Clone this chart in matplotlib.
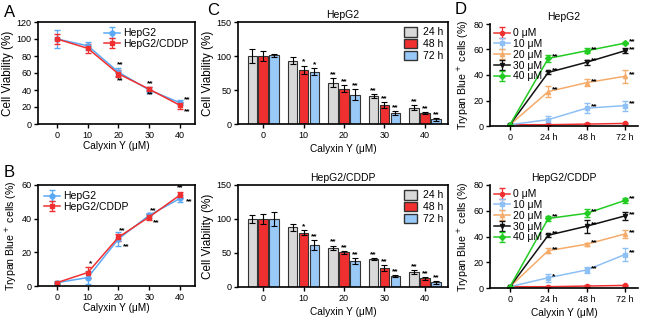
import numpy as np
import matplotlib
matplotlib.use("Agg")
import matplotlib.pyplot as plt
from matplotlib.patches import Patch

plt.rcParams['font.family'] = ['Liberation Sans', 'DejaVu Sans']
plt.rcParams['font.size'] = 6.5
plt.rcParams['axes.linewidth'] = 1.2
plt.rcParams['xtick.major.width'] = 1.0
plt.rcParams['ytick.major.width'] = 1.0
plt.rcParams['xtick.major.size'] = 3
plt.rcParams['ytick.major.size'] = 3
plt.rcParams['xtick.major.pad'] = 2
plt.rcParams['ytick.major.pad'] = 1.5

# ---- data ----
doses = [0, 10, 20, 30, 40]
dose_labels = ["0", "10", "20", "30", "40"]

# panel A: cell viability
a_hepg2 = [100, 92, 61, 40, 25]
a_hepg2_err = [11, 5, 5, 3, 3]
a_cddp = [100, 89, 59, 41, 22]
a_cddp_err = [6, 5, 4, 2, 4]

# panel B: trypan blue+ cells
b_hepg2 = [2, 5, 28, 42, 52]
b_hepg2_err = [1, 4, 4, 1.5, 2]
b_cddp = [2, 8, 29, 41, 54]
b_cddp_err = [0.5, 3, 2, 1.5, 2]

# panel C: bars by time
times = ["24 h", "48 h", "72 h"]
c_hepg2 = [[100, 93, 61, 41, 24],
           [100, 80, 52, 28, 16],
           [101, 77, 43, 16, 7]]
c_hepg2_err = [[11, 5, 7, 3, 4],
               [7, 6, 5, 4, 2],
               [2, 5, 8, 3, 2]]
c_hepg2_sig = [["", "", "**", "**", "**"],
               ["", "*", "**", "**", "**"],
               ["", "*", "**", "**", "**"]]
c_cddp = [[100, 88, 58, 41, 22],
          [100, 80, 51, 28, 13],
          [100, 62, 38, 16, 7]]
c_cddp_err = [[6, 5, 3, 2, 3],
              [7, 4, 2, 4, 2],
              [10, 7, 4, 2, 2]]
c_cddp_sig = [["", "", "**", "**", "**"],
              ["", "*", "**", "**", "**"],
              ["", "**", "**", "**", "**"]]

# panel D: trypan blue+ over time
d_times = ["0", "24 h", "48 h", "72 h"]
d_conc = ["0 \u03bcM", "10 \u03bcM", "20 \u03bcM", "30 \u03bcM", "40 \u03bcM"]
d_hepg2 = [[1, 1, 1.5, 2],
           [1, 5, 14, 16],
           [1, 27, 34, 39],
           [1, 42, 50, 59],
           [1, 53, 59, 65]]
d_hepg2_err = [[0.5, 0.5, 0.5, 0.5],
               [0.5, 3, 4, 4],
               [0.5, 4, 3, 5],
               [0.5, 1, 2, 2],
               [0.5, 3, 2, 1]]
d_hepg2_sig = [["", "", "", ""],
               ["", "", "**", "**"],
               ["", "**", "**", "**"],
               ["", "**", "**", "**"],
               ["", "**", "**", "**"]]
d_cddp = [[1, 1, 1.5, 2],
          [1, 8, 14, 26],
          [1, 29, 34, 42],
          [1, 41, 48, 56],
          [1, 54, 58, 68]]
d_cddp_err = [[0.5, 0.5, 0.5, 0.5],
              [0.5, 3, 2, 5],
              [0.5, 2, 1, 3],
              [0.5, 1, 5, 3],
              [0.5, 2, 3, 2]]
d_cddp_sig = [["", "", "", ""],
              ["", "*", "**", "**"],
              ["", "**", "**", "**"],
              ["", "**", "**", "**"],
              ["", "**", "**", "**"]]

BLUE = "#5aa9f5"
RED = "#f03030"
GRAY = "#d9d9d9"
LBLUE = "#99c9f7"
bar_colors = [GRAY, RED, LBLUE]
line_colors = ["#f03030", "#8ec0f5", "#f5ab6a", "#111111", "#22cc22"]
line_markers = ["o", "s", "^", "v", "D"]

XLAB = 7.3
YLAB = 8.5
YLAB_TB = 7.6
TITLE = 7.5

W, H = 650, 321
fig = plt.figure(figsize=(W / 100, H / 100), dpi=100)


def px_axes(left, right, top, bottom):
    return fig.add_axes([left / W, 1 - bottom / H, (right - left) / W, (bottom - top) / H])


def star(ax, x, y, s, dx=0, dy=0, ha="center", va="bottom"):
    if s:
        ax.annotate(s, (x, y), xytext=(dx, dy), textcoords="offset points",
                    ha=ha, va=va, fontsize=6, fontweight="bold")


def line_panel(ax, h, h_err, c, c_err, ylim, yticks, ylabel, ysize, legend_loc):
    ax.errorbar(doses, h, yerr=h_err, color=BLUE, marker="o", ms=3.5, lw=1.1,
                capsize=2, elinewidth=0.9, label="HepG2")
    ax.errorbar(doses, c, yerr=c_err, color=RED, marker="s", ms=3.5, lw=1.1,
                capsize=2, elinewidth=0.9, label="HepG2/CDDP")
    ax.set_xlim(-6.2, 44.9)
    ax.set_ylim(*ylim)
    ax.set_xticks(doses)
    ax.set_xticklabels(dose_labels)
    ax.set_yticks(yticks)
    ax.set_xlabel("Calyxin Y (\u03bcM)", fontsize=XLAB, labelpad=1)
    ax.set_ylabel(ylabel, fontsize=ysize, labelpad=2)
    ax.legend(loc=legend_loc, frameon=False, fontsize=7.5, handlelength=1.5,
              borderaxespad=0.2, labelspacing=0.05, handletextpad=0.35)


axA = px_axes(38, 195, 22, 124)
line_panel(axA, a_hepg2, a_hepg2_err, a_cddp, a_cddp_err, (0, 120),
           [0, 20, 40, 60, 80, 100, 120], "Cell Viability (%)", YLAB, "upper right")
for i in [2, 3]:
    star(axA, doses[i], a_hepg2[i] + a_hepg2_err[i], "**", dx=1)
    star(axA, doses[i], a_cddp[i] - a_cddp_err[i], "**", dx=1, va="top")
star(axA, doses[4], a_hepg2[4], "**", dx=3, ha="left")
star(axA, doses[4], a_cddp[4] - a_cddp_err[4], "**", dx=3, ha="left", va="top")

axB = px_axes(38, 195, 185, 286)
line_panel(axB, b_hepg2, b_hepg2_err, b_cddp, b_cddp_err, (0, 60),
           [0, 20, 40, 60], "Trypan Blue$^+$ cells (%)", YLAB_TB, "upper left")
star(axB, doses[1], b_cddp[1] + b_cddp_err[1], "*", dx=2)
for i in [2, 3]:
    star(axB, doses[i], b_cddp[i] + b_cddp_err[i], "**", dx=3)
    star(axB, doses[i], b_hepg2[i], "**", dx=3, dy=-3, ha="left", va="top")
star(axB, doses[4], b_cddp[4] + b_cddp_err[4], "**")
star(axB, doses[4], b_hepg2[4], "**", dx=4, ha="left", va="top")


def bar_panel(ax, vals, errs, sigs, title):
    x = np.arange(len(doses))
    w = 0.23
    for k in range(3):
        xs = x + (k - 1) * 0.27
        ax.bar(xs, vals[k], w, yerr=errs[k], color=bar_colors[k], edgecolor="#333333",
               linewidth=0.8, capsize=2, error_kw=dict(elinewidth=0.8, capthick=0.8),
               label=times[k])
        for j in range(len(doses)):
            star(ax, xs[j], vals[k][j] + errs[k][j], sigs[k][j])
    ax.set_xlim(-0.62, 4.57)
    ax.set_ylim(0, 150)
    ax.set_yticks([0, 50, 100, 150])
    ax.set_xticks(x)
    ax.set_xticklabels(dose_labels)
    ax.set_xlabel("Calyxin Y (\u03bcM)", fontsize=XLAB, labelpad=3)
    ax.set_ylabel("Cell Viability (%)", fontsize=YLAB, labelpad=2)
    ax.set_title(title, fontsize=TITLE, pad=3)
    handles = [Patch(facecolor=bar_colors[k], edgecolor="#333333", label=times[k]) for k in range(3)]
    ax.legend(handles=handles, loc="upper right", frameon=False, fontsize=7.5,
              handlelength=1.3, handleheight=1.0, borderaxespad=0.1, labelspacing=0.15,
              handletextpad=0.5)


axC1 = px_axes(238, 448, 22, 124)
bar_panel(axC1, c_hepg2, c_hepg2_err, c_hepg2_sig, "HepG2")
axC2 = px_axes(238, 448, 185, 287)
bar_panel(axC2, c_cddp, c_cddp_err, c_cddp_sig, "HepG2/CDDP")


def time_panel(ax, vals, errs, sigs, title, xlabel):
    x = np.arange(len(d_times))
    for k in range(len(d_conc)):
        ax.errorbar(x, vals[k], yerr=errs[k], color=line_colors[k], marker=line_markers[k],
                    ms=3, lw=1.1, capsize=2, elinewidth=0.9, label=d_conc[k])
        for j in range(len(d_times)):
            star(ax, x[j], vals[k][j], sigs[k][j], dx=3, dy=1, ha="left", va="center")
    ax.set_xlim(-0.52, 3.34)
    ax.set_ylim(0, 80)
    ax.set_yticks([0, 20, 40, 60, 80])
    ax.set_xticks(x)
    ax.set_xticklabels(d_times)
    for s in ["top", "right"]:
        ax.spines[s].set_visible(False)
    if xlabel:
        ax.set_xlabel("Calyxin Y (\u03bcM)", fontsize=XLAB, labelpad=3)
    ax.set_ylabel("Trypan Blue$^+$ cells (%)", fontsize=YLAB_TB, labelpad=2)
    ax.set_title(title, fontsize=TITLE, pad=3)
    ax.legend(loc="upper left", frameon=False, fontsize=7.5, handlelength=1.5,
              borderaxespad=0.0, labelspacing=0.08, handletextpad=0.35)


axD1 = px_axes(490, 638, 24, 126)
time_panel(axD1, d_hepg2, d_hepg2_err, d_hepg2_sig, "HepG2", False)
axD2 = px_axes(490, 638, 185, 288)
time_panel(axD2, d_cddp, d_cddp_err, d_cddp_sig, "HepG2/CDDP", True)

for lbl, x, y in [("A", 4, 5), ("B", 4, 165), ("C", 207, 3), ("D", 455, 2)]:
    fig.text(x / W, 1 - y / H, lbl, fontsize=12, ha="left", va="top")

fig.savefig("out.png", dpi=100)
